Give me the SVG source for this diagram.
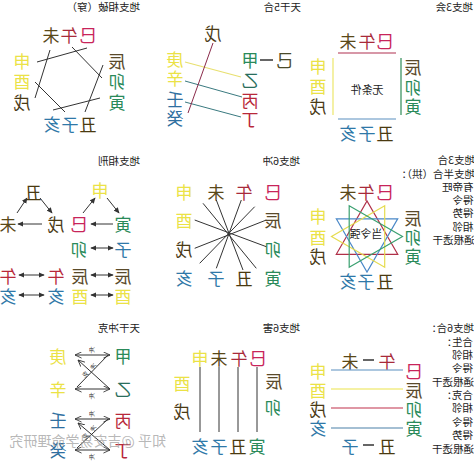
<svg xmlns="http://www.w3.org/2000/svg" width="474" height="461" viewBox="0 0 474 461">
<style>
text{font-family:"Noto Sans CJK SC","Noto Sans CJK JP",sans-serif;}
.ch{font-size:17px;text-anchor:middle;dominant-baseline:central;}
.tt{font-size:10.5px;fill:#222;dominant-baseline:central;}
.sm{font-size:11px;fill:#222;text-anchor:middle;dominant-baseline:central;}
.lb{font-size:6px;fill:#333;text-anchor:middle;dominant-baseline:central;}
.si{fill:#c8245a}.wu{fill:#a82a3a}.wei{fill:#5a4818}.yel{fill:#ebe246}.xu{fill:#4a3a14}
.blu{fill:#2f78a8}.chou{fill:#4a3a10}.grn{fill:#2a8a5a}.chen{fill:#5a4a2a}
.jia{fill:#2a8a5a}.yi{fill:#2a6e5c}.bing{fill:#b8283a}.wuS{fill:#4a3a14}.ji{fill:#4a4a2a}.ren{fill:#2f6fa0}
.ln{stroke:#333;stroke-width:1;fill:none;}
.ar{stroke:#333;stroke-width:1;fill:none;marker-end:url(#ah);}
.ar2{stroke:#333;stroke-width:1;fill:none;marker-start:url(#ah);marker-end:url(#ah);}
.cv2{stroke:#333;stroke-width:1;fill:none;marker-start:url(#cv);marker-end:url(#cv);}
.cv{stroke:#333;stroke-width:1;fill:none;marker-end:url(#cv);}
.wm{font-size:14px;fill:#999;fill-opacity:.7;dominant-baseline:central;}
</style>
<defs>
<marker id="ah" viewBox="0 0 8 8" refX="7" refY="4" markerWidth="6" markerHeight="6" orient="auto-start-reverse" markerUnits="userSpaceOnUse"><path d="M0,0.5 L8,4 L0,7.5 Z" fill="#333"/></marker>
<marker id="cv" viewBox="0 0 8 8" refX="7.5" refY="4" markerWidth="7" markerHeight="7" orient="auto-start-reverse" markerUnits="userSpaceOnUse"><path d="M0,0.5 L7.5,4 L0,7.5" fill="none" stroke="#333" stroke-width="1"/></marker>
</defs>
<rect width="474" height="461" fill="#fff"/>
<g transform="matrix(-1 0 0 1 474 0)">

<!-- Panel 1 -->
<g id="panel1">
<text class="tt" x="334" y="6">地支相破（穿）</text>
<g id="p1-si"><text class="ch si" x="386" y="34">巳</text></g>
<g id="p1-wu"><text class="ch wu" x="405" y="34">午</text></g>
<g id="p1-wei"><text class="ch wei" x="423" y="34">未</text></g>
<g id="p1-shen"><text class="ch yel" x="452" y="60">申</text></g>
<g id="p1-you"><text class="ch yel" x="452" y="80">酉</text></g>
<g id="p1-xu"><text class="ch xu" x="452" y="101">戌</text></g>
<g id="p1-chen"><text class="ch chen" x="357" y="60">辰</text></g>
<g id="p1-mao"><text class="ch grn" x="357" y="80">卯</text></g>
<g id="p1-yin"><text class="ch grn" x="357" y="101">寅</text></g>
<g id="p1-chou"><text class="ch chou" x="386" y="123">丑</text></g>
<g id="p1-zi"><text class="ch blu" x="404" y="123">子</text></g>
<g id="p1-hai"><text class="ch blu" x="422" y="123">亥</text></g>
</g>

<!-- Panel 2 -->
<g id="panel2">
<text class="tt" x="173" y="6">天干5合</text>
<g id="p2-wu"><text class="ch wuS" x="261" y="32">戊</text></g>
<g id="p2-jia"><text class="ch jia" x="224" y="59">甲</text></g>
<g id="p2-ji"><text class="ch ji" x="189" y="59">己</text></g>
<g id="p2-yi"><text class="ch yi" x="224" y="79">乙</text></g>
<g id="p2-bing"><text class="ch bing" x="224" y="99">丙</text></g>
<g id="p2-ding"><text class="ch bing" x="224" y="118">丁</text></g>
<g id="p2-geng"><text class="ch yel" x="299" y="58">庚</text></g>
<g id="p2-xin"><text class="ch yel" x="299" y="77">辛</text></g>
<g id="p2-ren"><text class="ch ren" x="299" y="98">壬</text></g>
<g id="p2-gui"><text class="ch ren" x="299" y="117">癸</text></g>
</g>

<!-- Panel 3 -->
<g id="panel3">
<text class="tt" x="1" y="6">地支3会</text>
<g id="p3-si"><text class="ch si" x="89" y="40">巳</text></g>
<g id="p3-wu"><text class="ch wu" x="107" y="40">午</text></g>
<g id="p3-wei"><text class="ch wei" x="126" y="40">未</text></g>
<g id="p3-chen"><text class="ch chen" x="61" y="66">辰</text></g>
<g id="p3-mao"><text class="ch grn" x="61" y="86">卯</text></g>
<g id="p3-yin"><text class="ch grn" x="61" y="105">寅</text></g>
<g id="p3-shen"><text class="ch yel" x="156" y="65">申</text></g>
<g id="p3-you"><text class="ch yel" x="156" y="85">酉</text></g>
<g id="p3-xu"><text class="ch xu" x="156" y="105">戌</text></g>
<g id="p3-chou"><text class="ch chou" x="89" y="132">丑</text></g>
<g id="p3-zi"><text class="ch blu" x="107" y="132">子</text></g>
<g id="p3-hai"><text class="ch blu" x="126" y="132">亥</text></g>
<g id="p3-center"><text class="sm" x="107" y="89">无条件</text></g>
</g>

<!-- Panel 4 -->
<g id="panel4">
<text class="tt" x="334" y="160">地支相刑</text>
<g id="p4-chou"><text class="ch chou" x="441" y="191">丑</text></g>
<g id="p4-shen"><text class="ch yel" x="374" y="189">申</text></g>
<g id="p4-wei"><text class="ch wei" x="466" y="223">未</text></g>
<g id="p4-xu"><text class="ch xu" x="418" y="223">戌</text></g>
<g id="p4-si"><text class="ch si" x="395" y="223">巳</text></g>
<g id="p4-yin"><text class="ch grn" x="351" y="223">寅</text></g>
<g id="p4-mao"><text class="ch grn" x="395" y="248">卯</text></g>
<g id="p4-zi"><text class="ch blu" x="351" y="248">子</text></g>
<g id="p4-wu1"><text class="ch bing" x="466" y="275">午</text></g>
<g id="p4-wu2"><text class="ch bing" x="418" y="275">午</text></g>
<g id="p4-chen1"><text class="ch chen" x="394" y="275">辰</text></g>
<g id="p4-chen2"><text class="ch chen" x="351" y="275">辰</text></g>
<g id="p4-hai1"><text class="ch blu" x="466" y="295">亥</text></g>
<g id="p4-hai2"><text class="ch blu" x="418" y="295">亥</text></g>
<g id="p4-you1"><text class="ch yel" x="394" y="295">酉</text></g>
<g id="p4-you2"><text class="ch yel" x="351" y="295">酉</text></g>
</g>

<!-- Panel 5 -->
<g id="panel5">
<text class="tt" x="174" y="160">地支6冲</text>
<g id="p5-shen"><text class="ch yel" x="290" y="191">申</text></g>
<g id="p5-wei"><text class="ch wei" x="258" y="191">未</text></g>
<g id="p5-wu"><text class="ch wu" x="230" y="191">午</text></g>
<g id="p5-si"><text class="ch si" x="201" y="191">巳</text></g>
<g id="p5-you"><text class="ch yel" x="290" y="219">酉</text></g>
<g id="p5-xu"><text class="ch xu" x="290" y="248">戌</text></g>
<g id="p5-hai"><text class="ch blu" x="290" y="277">亥</text></g>
<g id="p5-zi"><text class="ch blu" x="258" y="277">子</text></g>
<g id="p5-chou"><text class="ch chou" x="230" y="277">丑</text></g>
<g id="p5-yin"><text class="ch grn" x="201" y="277">寅</text></g>
<g id="p5-chen"><text class="ch chen" x="201" y="219">辰</text></g>
<g id="p5-mao"><text class="ch grn" x="201" y="248">卯</text></g>
</g>

<!-- Panel 6 -->
<g id="panel6">
<text class="tt" x="-1" y="159">地支3合</text>
<text class="tt" x="-1" y="173">地支半合（拱）：</text>
<text class="tt" x="0.5" y="186">有帝旺</text>
<text class="tt" x="0.5" y="199">得令</text>
<text class="tt" x="0.5" y="212.5">得势</text>
<text class="tt" x="0.5" y="226">相邻</text>
<text class="tt" x="-0.5" y="239">通根透干</text>
<g id="p6-si"><text class="ch si" x="89" y="191">巳</text></g>
<g id="p6-wu"><text class="ch wu" x="108" y="191">午</text></g>
<g id="p6-wei"><text class="ch wei" x="126" y="191">未</text></g>
<g id="p6-shen"><text class="ch yel" x="156" y="215">申</text></g>
<g id="p6-you"><text class="ch yel" x="156" y="236">酉</text></g>
<g id="p6-xu"><text class="ch xu" x="156" y="255">戌</text></g>
<g id="p6-chen"><text class="ch chen" x="61" y="217">辰</text></g>
<g id="p6-mao"><text class="ch grn" x="61" y="236">卯</text></g>
<g id="p6-yin"><text class="ch grn" x="61" y="255">寅</text></g>
<g id="p6-chou"><text class="ch chou" x="89" y="280">丑</text></g>
<g id="p6-zi"><text class="ch blu" x="108" y="280">子</text></g>
<g id="p6-hai"><text class="ch blu" x="126" y="280">亥</text></g>
</g>

<!-- Panel 7 -->
<g id="panel7">
<text class="tt" x="334" y="327">天干冲克</text>
<g id="p7-jia"><text class="ch jia" x="351" y="355">甲</text></g>
<g id="p7-yi"><text class="ch yi" x="351" y="388">乙</text></g>
<g id="p7-bing"><text class="ch bing" x="351" y="419">丙</text></g>
<g id="p7-ding"><text class="ch bing" x="351" y="449">丁</text></g>
<g id="p7-geng"><text class="ch yel" x="416" y="355">庚</text></g>
<g id="p7-xin"><text class="ch yel" x="416" y="388">辛</text></g>
<g id="p7-ren"><text class="ch ren" x="416" y="419">壬</text></g>
<g id="p7-gui"><text class="ch ren" x="416" y="449">癸</text></g>
</g>

<!-- Panel 8 -->
<g id="panel8">
<text class="tt" x="174" y="327">地支6害</text>
<g id="p8-shen"><text class="ch yel" x="274" y="357">申</text></g>
<g id="p8-wei"><text class="ch wei" x="255" y="357">未</text></g>
<g id="p8-wu"><text class="ch wu" x="235" y="357">午</text></g>
<g id="p8-si"><text class="ch si" x="216" y="357">巳</text></g>
<g id="p8-chen"><text class="ch chen" x="200" y="380">辰</text></g>
<g id="p8-mao"><text class="ch grn" x="201" y="406">卯</text></g>
<g id="p8-you"><text class="ch yel" x="292" y="382">酉</text></g>
<g id="p8-xu"><text class="ch xu" x="292" y="410">戌</text></g>
<g id="p8-hai"><text class="ch blu" x="274" y="445">亥</text></g>
<g id="p8-zi"><text class="ch blu" x="255" y="445">子</text></g>
<g id="p8-chou"><text class="ch chou" x="236" y="445">丑</text></g>
<g id="p8-yin"><text class="ch grn" x="217" y="445">寅</text></g>
</g>

<!-- Panel 9 -->
<g id="panel9">
<text class="tt" x="0" y="327">地支6合：</text>
<text class="tt" x="1" y="341">合生：</text>
<text class="tt" x="1" y="354">相邻</text>
<text class="tt" x="1" y="367.5">得令</text>
<text class="tt" x="0" y="381">通根透干</text>
<text class="tt" x="1" y="394">合克：</text>
<text class="tt" x="1" y="407.5">相邻</text>
<text class="tt" x="1" y="421">得令</text>
<text class="tt" x="1" y="434">得势</text>
<text class="tt" x="0" y="448">通根透干</text>
<g id="p9-wu"><text class="ch wu" x="87" y="360">午</text></g>
<g id="p9-wei"><text class="ch wei" x="124" y="360">未</text></g>
<g id="p9-si"><text class="ch si" x="60" y="370">巳</text></g>
<g id="p9-chen"><text class="ch chen" x="60" y="389">辰</text></g>
<g id="p9-mao"><text class="ch grn" x="60" y="408">卯</text></g>
<g id="p9-yin"><text class="ch grn" x="60" y="427">寅</text></g>
<g id="p9-shen"><text class="ch yel" x="156" y="370">申</text></g>
<g id="p9-you"><text class="ch yel" x="156" y="389">酉</text></g>
<g id="p9-xu"><text class="ch xu" x="156" y="408">戌</text></g>
<g id="p9-hai"><text class="ch blu" x="156" y="427">亥</text></g>
<g id="p9-chou"><text class="ch chou" x="87" y="445">丑</text></g>
<g id="p9-zi"><text class="ch blu" x="124" y="445">子</text></g>
</g>

<!-- Connectors -->
<g id="connectors">
<line class="ln" x1="437" y1="62" x2="387" y2="48"/>
<line class="ln" x1="424" y1="50" x2="439" y2="98"/>
<line class="ln" x1="402" y1="47" x2="372" y2="78"/>
<line class="ln" x1="371" y1="65" x2="389" y2="112"/>
<line class="ln" x1="439" y1="82" x2="409" y2="112"/>
<line class="ln" x1="421" y1="110" x2="374" y2="98"/>
<line stroke="#333" stroke-width="1.5" x1="201" y1="60" x2="214" y2="60"/>
<line stroke="#e8e070" stroke-width="1.2" x1="289" y1="62" x2="233" y2="77"/>
<line stroke="#3a7a80" stroke-width="1" x1="289" y1="81" x2="232" y2="97"/>
<line stroke="#3a7a80" stroke-width="1" x1="289" y1="102" x2="233" y2="117"/>
<line stroke="#8a2a4a" stroke-width="1" x1="261" y1="43" x2="286" y2="113"/>
<line stroke="#b03050" stroke-width="1.2" x1="78" y1="53" x2="136" y2="53"/>
<line stroke="#5a8fbf" stroke-width="1.2" x1="78" y1="119" x2="136" y2="119"/>
<line stroke="#2e8b57" stroke-width="1.2" x1="73" y1="58" x2="73" y2="115"/>
<line stroke="#ece66a" stroke-width="1.2" x1="141" y1="58" x2="141" y2="115"/>
<line class="ar" x1="432" y1="224" x2="456" y2="224"/>
<line class="ar" x1="361" y1="224" x2="383" y2="224"/>
<line class="ar" x1="457" y1="213" x2="447" y2="198"/>
<line class="ar" x1="434" y1="198" x2="422" y2="213"/>
<line class="ar" x1="391" y1="213" x2="379" y2="198"/>
<line class="ar" x1="367" y1="198" x2="355" y2="213"/>
<line class="ar2" x1="361" y1="248" x2="383" y2="248"/>
<line class="ar2" x1="430" y1="275" x2="455" y2="275"/>
<line class="ar2" x1="361" y1="275" x2="383" y2="275"/>
<line class="ar2" x1="430" y1="295" x2="455" y2="295"/>
<line class="ar2" x1="361" y1="295" x2="383" y2="295"/>
<line class="ln" x1="232.7" y1="200" x2="257.7" y2="268.3"/>
<line class="ln" x1="257.7" y1="200" x2="231" y2="270"/>
<line class="ln" x1="271" y1="203.3" x2="217.7" y2="268.3"/>
<line class="ln" x1="279.3" y1="220" x2="207.7" y2="246.7"/>
<line class="ln" x1="279.3" y1="248.3" x2="207.7" y2="220"/>
<line class="ln" x1="219.3" y1="206.7" x2="274.3" y2="263.3"/>
<polygon fill="none" stroke="#b03048" stroke-width="1.2" points="76.3,254.3 107,201 137.7,254.3"/>
<polygon fill="none" stroke="#4a88c8" stroke-width="1.2" points="137.7,218.8 107,272 76.3,218.8"/>
<polygon fill="none" stroke="#e6dc50" stroke-width="1.2" points="89.3,205.8 142.5,236.5 89.3,267.2"/>
<polygon fill="none" stroke="#3aa070" stroke-width="1.2" points="124.8,267.2 71.5,236.5 124.8,205.8"/>
<line class="cv2" x1="364" y1="355" x2="399" y2="355"/>
<line class="cv2" x1="364" y1="389" x2="399" y2="389"/>
<line class="cv2" x1="364" y1="419" x2="399" y2="419"/>
<line class="cv2" x1="364" y1="450" x2="399" y2="450"/>
<line class="ln" x1="366" y1="355" x2="397" y2="387"/>
<line class="cv" x1="364" y1="389" x2="396" y2="360"/>
<line class="ln" x1="366" y1="419" x2="397" y2="448"/>
<line class="cv" x1="364" y1="450" x2="396" y2="423"/>
<line class="ln" x1="274" y1="367" x2="274" y2="432"/>
<line class="ln" x1="255" y1="367" x2="255" y2="432"/>
<line class="ln" x1="236" y1="367" x2="236" y2="432"/>
<line class="ln" x1="217" y1="367" x2="217" y2="432"/>
<line stroke="#333" stroke-width="1.5" x1="100" y1="360" x2="111" y2="360"/>
<line stroke="#333" stroke-width="1.5" x1="100" y1="445" x2="111" y2="445"/>
<line stroke="#5a8fbf" stroke-width="1.2" x1="71" y1="370" x2="143" y2="370"/>
<line stroke="#ece44a" stroke-width="1.2" x1="71" y1="389" x2="143" y2="389"/>
<line stroke="#c0304a" stroke-width="1.2" x1="71" y1="408" x2="143" y2="408"/>
<line stroke="#4a80a8" stroke-width="1.2" x1="71" y1="428" x2="143" y2="428"/>
</g>

<g id="labels">
<text class="lb" x="382" y="349">冲</text>
<text class="lb" x="382" y="395">冲</text>
<text class="lb" x="382" y="413">冲</text>
<text class="lb" x="382" y="456">冲</text>
<text class="lb" x="381" y="366" transform="rotate(45 381 366)">冲</text>
<text class="lb" x="389" y="374" transform="rotate(45 389 374)">克</text>
<text class="lb" x="381" y="428" transform="rotate(45 381 428)">冲</text>
<text class="lb" x="389" y="436" transform="rotate(45 389 436)">克</text>
<text class="sm" x="108" y="233">当令强</text>
</g>

<text class="wm" x="308" y="440">知乎 @吉安易学命理研究</text>
</g>
</svg>
